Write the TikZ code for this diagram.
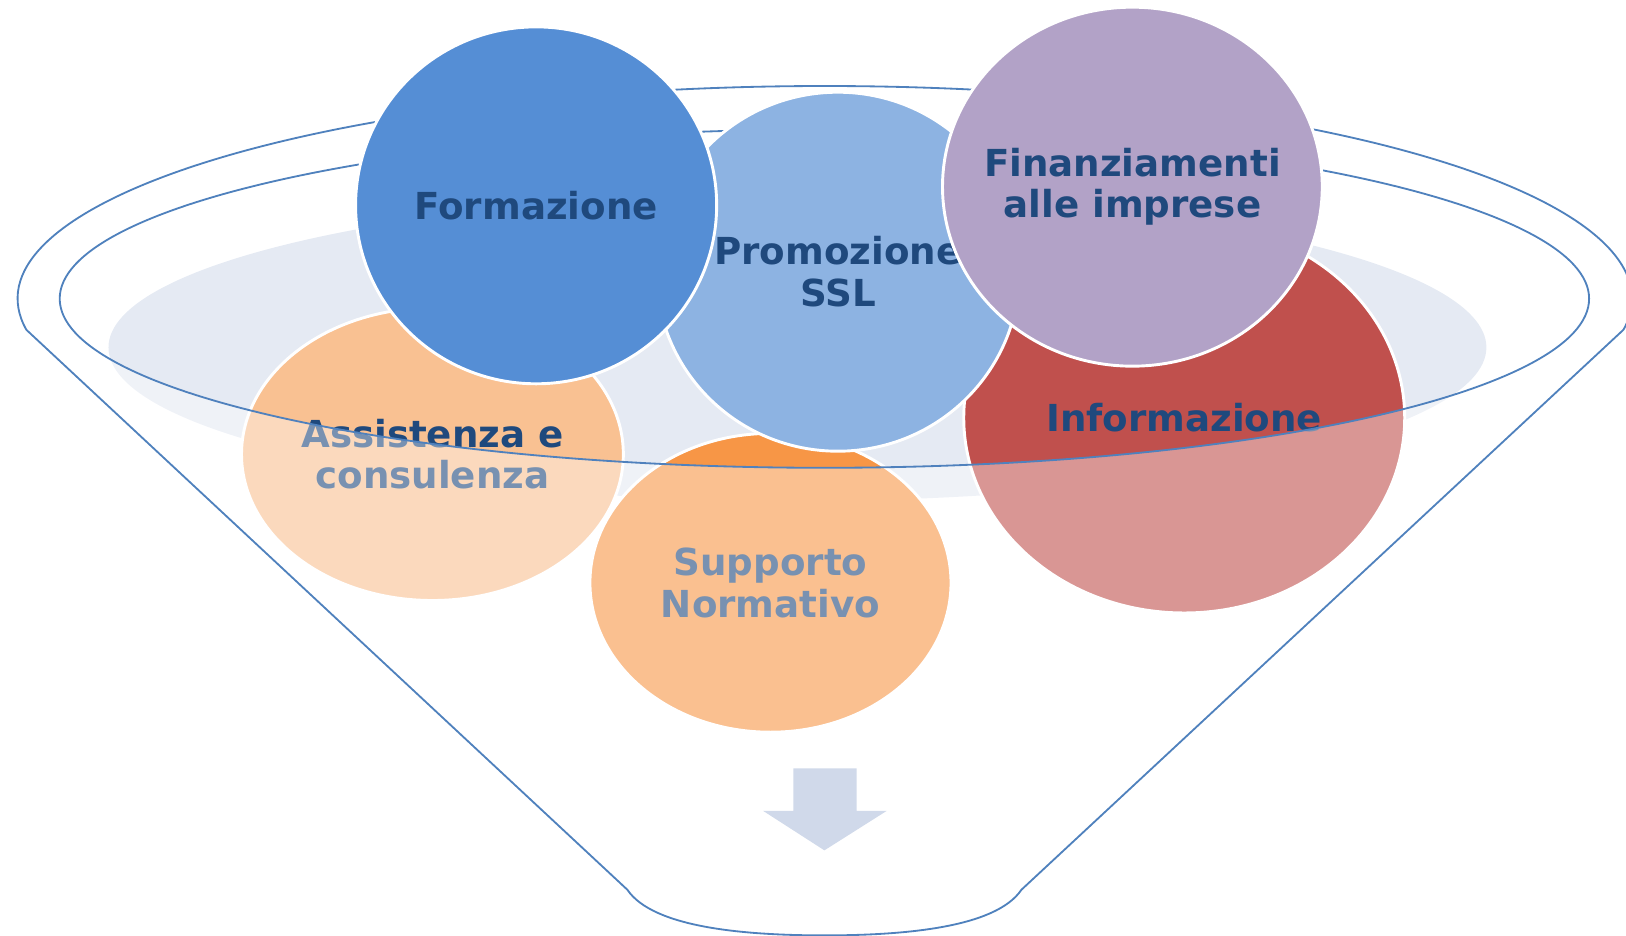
\documentclass[tikz,border=0pt]{standalone}
\usepackage{fontspec}
\setmainfont{DejaVu Sans}
\usetikzlibrary{shapes.geometric}
\definecolor{testo}{RGB}{31,73,125}
\definecolor{bordo}{RGB}{79,129,189}
\definecolor{sfondo}{RGB}{229,234,243}
\definecolor{freccia}{RGB}{208,217,234}
\definecolor{blu}{RGB}{85,142,213}
\definecolor{azzurro}{RGB}{141,179,226}
\definecolor{lilla}{RGB}{178,162,199}
\definecolor{rosso}{RGB}{192,80,77}
\definecolor{pesca}{RGB}{249,193,146}
\definecolor{arancio}{RGB}{247,150,70}

\begin{document}
\begin{tikzpicture}[
    x=0.01cm, y=0.01cm,
    bolla/.style={ellipse, draw=white, line width=0.8pt, inner sep=-1.2cm, align=center,
        text=testo, font=\fontsize{10.2}{11.4}\selectfont\bfseries},
    imbuto/.style={draw=bordo, line width=0.5pt}
]
\useasboundingbox (0,0) rectangle (1568,-902);

% sfondo chiaro dentro l'imbuto
\fill[sfondo] (769,-335) ellipse [x radius=6.64cm, y radius=1.48cm];

% bolle in basso
\node[bolla, fill=rosso, minimum width=4.25cm, minimum height=3.76cm] (info) at (1142,-403) {Informazione};
\node[bolla, fill=pesca, minimum width=3.68cm, minimum height=2.82cm] (assist) at (417,-438) {Assistenza e\\consulenza};
\node[bolla, fill=arancio, minimum width=3.48cm, minimum height=2.88cm] (supp) at (743,-562) {Supporto\\Normativo};

% parte frontale dell'imbuto (velo bianco)
\fill[white, fill opacity=0.4, even odd rule]
    (25.4,-318) arc [start angle=188.4, end angle=-8.4, x radius=7.78cm, y radius=2.05cm]
    -- (985,-858) .. controls (960,-895) and (870,-902) .. (795,-902)
    .. controls (720,-902) and (630,-895) .. (605,-858) -- cycle
    (795,-288) ellipse [x radius=7.37cm, y radius=1.63cm];

% contorno dell'imbuto
\draw[imbuto]
    (25.4,-318) arc [start angle=188.4, end angle=-8.4, x radius=7.78cm, y radius=2.05cm]
    -- (985,-858) .. controls (960,-895) and (870,-902) .. (795,-902)
    .. controls (720,-902) and (630,-895) .. (605,-858) -- cycle;
\draw[imbuto] (795,-288) ellipse [x radius=7.37cm, y radius=1.63cm];

% freccia in uscita
\fill[freccia] (765,-741) -- (826,-741) -- (826,-782) -- (855,-782) -- (795,-820)
    -- (736,-782) -- (765,-782) -- cycle;

% bolle in alto
\node[bolla, fill=azzurro, minimum width=3.50cm, minimum height=3.46cm] (promo) at (808,-262) {Promozione\\SSL};
\node[bolla, fill=blu, minimum width=3.48cm, minimum height=3.44cm] (form) at (517,-198) {Formazione};
\node[bolla, fill=lilla, minimum width=3.66cm, minimum height=3.46cm] (fin) at (1092,-180) {Finanziamenti\\alle imprese};
\end{tikzpicture}
\end{document}
